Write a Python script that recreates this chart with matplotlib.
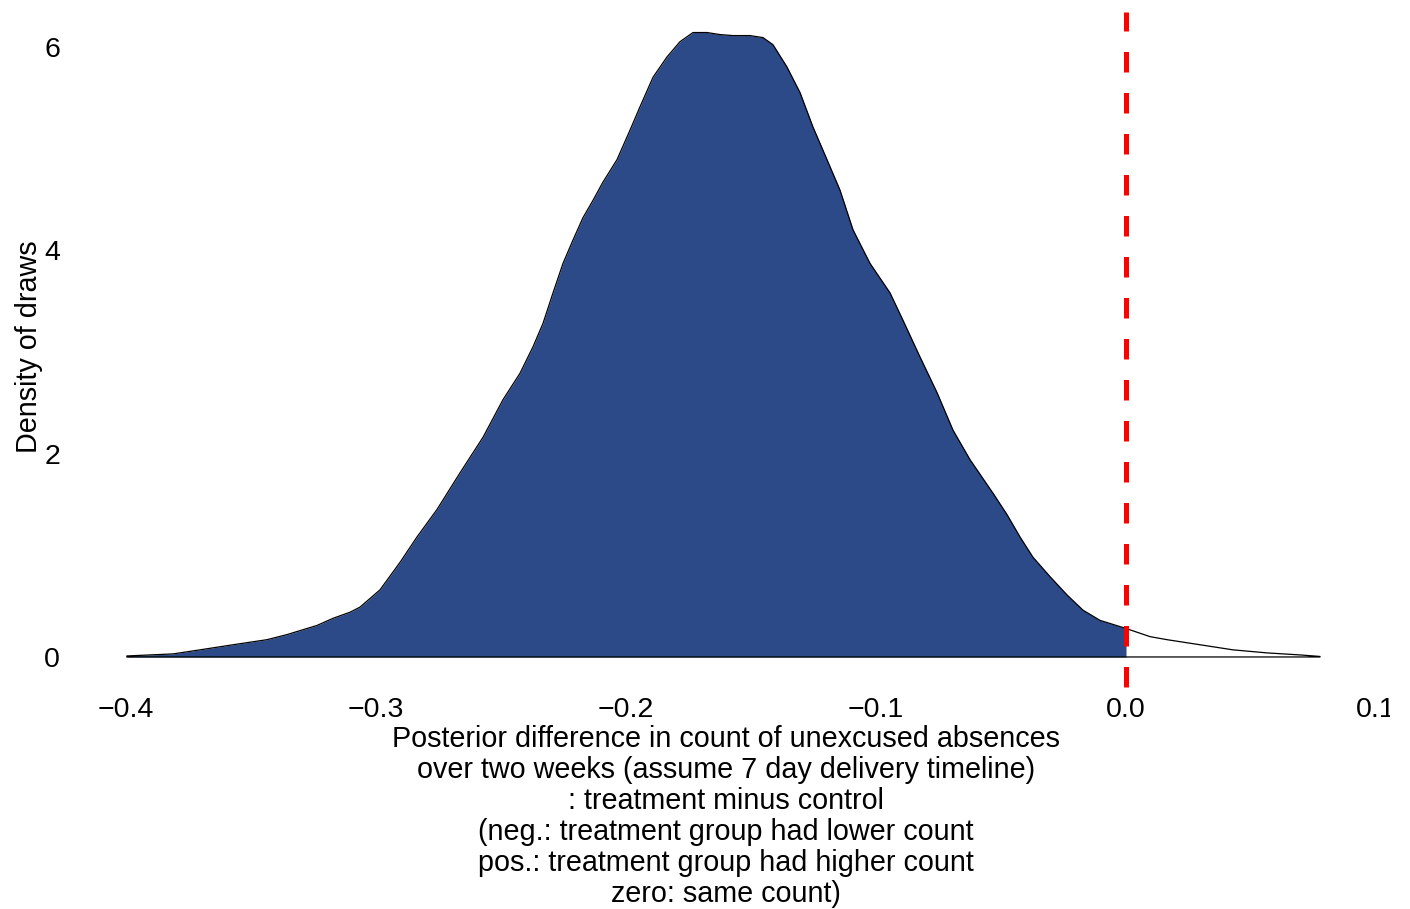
import matplotlib
matplotlib.use("Agg")
import matplotlib.pyplot as plt
from matplotlib.patches import Rectangle
import numpy as np

plt.rcParams["font.family"] = ["Liberation Sans", "DejaVu Sans"]

# Posterior draws density (treatment minus control)
diff_x = [-0.3996, -0.3812, -0.3704, -0.3572, -0.3436, -0.3356, -0.3236, -0.3172,
          -0.3104, -0.3064, -0.2984, -0.2904, -0.2836, -0.2756, -0.2664, -0.2572,
          -0.2492, -0.2424, -0.2372, -0.2332, -0.2292, -0.2252, -0.2212, -0.2172,
          -0.2132, -0.2092, -0.2036, -0.1984, -0.1944, -0.1892, -0.1836, -0.1784,
          -0.1732, -0.1676, -0.1624, -0.1572, -0.1504, -0.1452, -0.1412, -0.1356,
          -0.1304, -0.1252, -0.1196, -0.1144, -0.1092, -0.1024, -0.0944, -0.0892,
          -0.0824, -0.0756, -0.0692, -0.0624, -0.0532, -0.0476, -0.0424, -0.0372,
          -0.0304, -0.0236, -0.0172, -0.0104, 0.0, 0.0096, 0.0164, 0.0296,
          0.0428, 0.0564, 0.0696, 0.0776]
density = [0.01, 0.03, 0.07, 0.12, 0.17, 0.22, 0.31, 0.38,
           0.44, 0.49, 0.66, 0.93, 1.18, 1.45, 1.81, 2.16,
           2.53, 2.79, 3.05, 3.28, 3.58, 3.87, 4.10, 4.32,
           4.49, 4.67, 4.89, 5.18, 5.41, 5.70, 5.90, 6.05,
           6.14, 6.14, 6.12, 6.11, 6.11, 6.09, 6.02, 5.80,
           5.55, 5.21, 4.89, 4.59, 4.20, 3.87, 3.58, 3.31,
           2.95, 2.60, 2.23, 1.94, 1.61, 1.40, 1.18, 0.98,
           0.79, 0.61, 0.46, 0.36, 0.28, 0.20, 0.17, 0.12,
           0.07, 0.04, 0.02, 0.005]

x_ticks = [-0.4, -0.3, -0.2, -0.1, 0.0, 0.1]
x_tick_labels = ["\u22120.4", "\u22120.3", "\u22120.2", "\u22120.1", "0.0", "0.1"]
y_ticks = [0, 2, 4, 6]
cutoff = 0.0

x_label_lines = [
    "Posterior difference in count of unexcused absences",
    "over two weeks (assume 7 day delivery timeline)",
    ": treatment minus control",
    "(neg.: treatment group had lower count",
    "pos.: treatment group had higher count",
    "zero: same count)",
]
y_label = "Density of draws"

fill_blue = "#2C4A87"

W, H = 1410, 909
fig = plt.figure(figsize=(W / 100, H / 100), dpi=100)
ax = fig.add_axes([0.0539, 0.2437, 0.922, 0.7496])

xs = np.array(diff_x)
ds = np.array(density)

# Shade the part of the density below the cutoff; the rest stays white
below = xs <= cutoff
ax.fill_between(xs[below], 0, ds[below], color=fill_blue, linewidth=0, zorder=1)
# Outline of the density polygon (curve plus baseline)
ax.plot(np.r_[xs, xs[-1], xs[0]], np.r_[ds, 0, 0], color="black",
        linewidth=0.9, zorder=2, solid_joinstyle="round")

# Dashed reference line at the cutoff
ax.plot([cutoff, cutoff], [-0.3, 6.34], color="#FF0000", linewidth=3.6,
        linestyle=(0, (4.1, 4.1)), zorder=3, clip_on=False)

ax.set_xlim(-0.42, 0.1)
ax.set_ylim(-0.3, 6.4)
ax.set_xticks(x_ticks)
ax.set_xticklabels(x_tick_labels)
ax.set_yticks(y_ticks)
ax.tick_params(axis="both", length=0, labelsize=20.5)
ax.tick_params(axis="x", pad=7)
ax.tick_params(axis="y", pad=11.5)
for s in ax.spines.values():
    s.set_visible(False)

ax.set_ylabel(y_label, fontsize=20.7, labelpad=1)

# Multi-line x-axis title, one line every 31 px, centred under the axes
pos = ax.get_position()
x_center = (pos.x0 + pos.x1) / 2
first_baseline_px = 747
for i, line in enumerate(x_label_lines):
    y_px = first_baseline_px + 31 * i
    fig.text(x_center, 1 - y_px / H, line, fontsize=20.7,
             ha="center", va="baseline")

# Blank margin strip at the right edge of the device region
fig.add_artist(Rectangle((1390 / W, 0), 20 / W, 1, transform=fig.transFigure,
                         facecolor="white", edgecolor="none", zorder=10))

fig.savefig("out.png", dpi=100)
